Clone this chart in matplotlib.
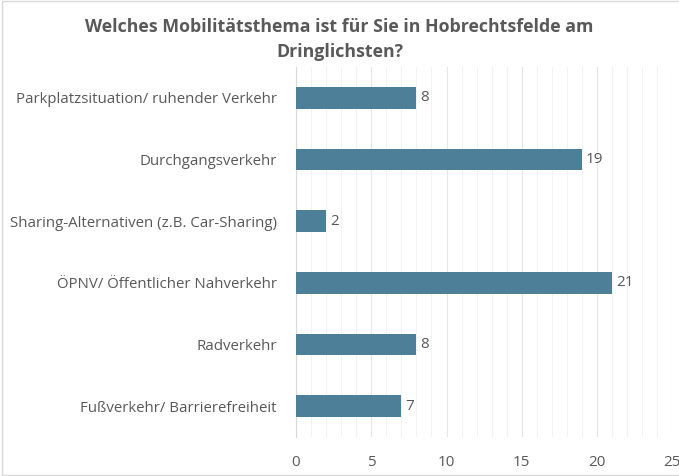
import matplotlib.pyplot as plt
import numpy as np

# daten
categories = ['Parkplatzsituation/ ruhender Verkehr', 'Durchgangsverkehr',
              'Sharing-Alternativen (z.B. Car-Sharing)', 'ÖPNV/ Öffentlicher Nahverkehr',
              'Radverkehr', 'Fußverkehr/ Barrierefreiheit']
values = [8, 19, 2, 21, 8, 7]
xticks = [0, 5, 10, 15, 20, 25]

plt.rcParams['font.family'] = ['Open Sans', 'DejaVu Sans']
text_col = '#595959'

fig = plt.figure(figsize=(6.79, 4.76), dpi=100)
ax = fig.add_axes([0.436, 0.082, 0.554, 0.777])

y = np.arange(len(categories))
ax.barh(y, values, height=0.35, color='#4E7F99', zorder=3)
for yi, v in zip(y, values):
    ax.text(v + 0.25, yi, str(v), va='center', ha='left', fontsize=11, color=text_col)

ax.set_ylim(len(categories) - 0.5, -0.5)
ax.set_xlim(0, 25)
ax.set_yticks(y)
ax.set_yticklabels(categories, fontsize=10.8, color=text_col)
ax.set_xticks(xticks)
ax.set_xticklabels([str(t) for t in xticks], fontsize=11, color=text_col)
ax.set_xticks(np.arange(0, 26, 1), minor=True)
ax.grid(axis='x', which='major', color='#E6E6E6', linewidth=0.8, zorder=0)
ax.grid(axis='x', which='minor', color='#F2F2F2', linewidth=0.8, zorder=0)
ax.tick_params(axis='both', which='both', length=0)
ax.tick_params(axis='x', pad=13)
ax.tick_params(axis='y', pad=14)
for s in ['top', 'right', 'bottom']:
    ax.spines[s].set_visible(False)
ax.spines['left'].set_color('#D9D9D9')

fig.text(0.5, 0.962, 'Welches Mobilitätsthema ist für Sie in Hobrechtsfelde am\nDringlichsten?',
         ha='center', va='top', fontsize=12.75, fontweight='bold', color=text_col, linespacing=1.5)

# rahmen (rechts abgeschnitten wie im bild)
fig.patches.append(plt.Rectangle((0.003, 0.003), 1.1, 0.994, transform=fig.transFigure,
                                 fill=False, edgecolor='#D9D9D9', linewidth=1))

plt.savefig('out.png', dpi=100)
